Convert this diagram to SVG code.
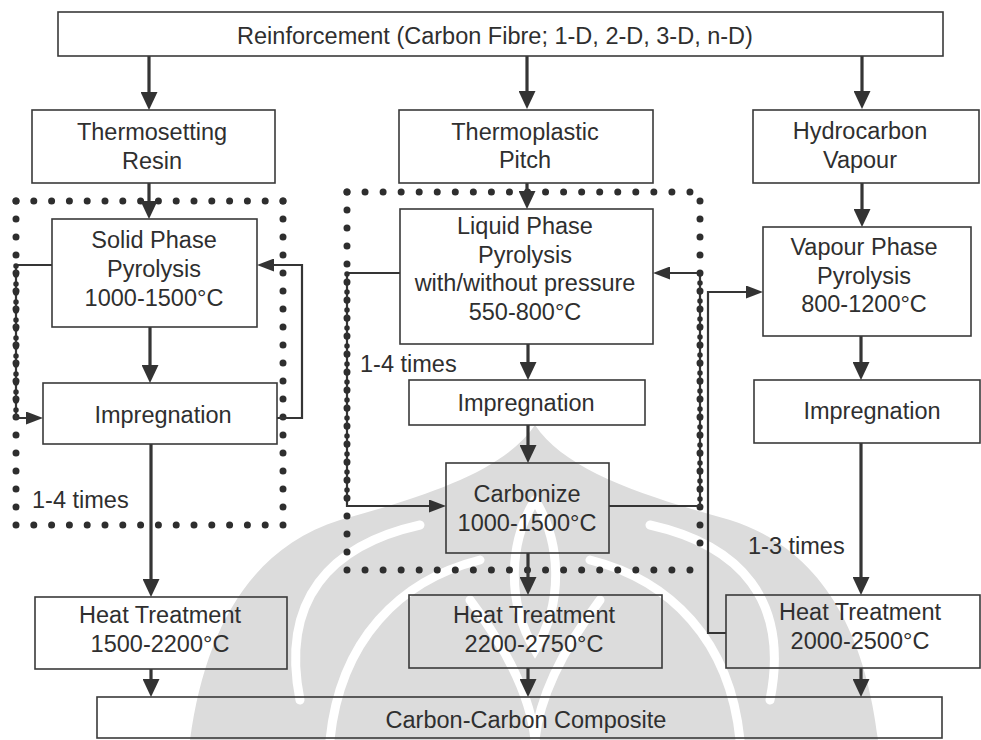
<svg xmlns="http://www.w3.org/2000/svg" width="981" height="740" viewBox="0 0 981 740">
  <defs>
    <style>
      .box { fill: none; stroke: #3a3a3a; stroke-width: 1.6; }
      .t { font-family: "Liberation Sans", Arial, Helvetica, sans-serif; font-size: 23.5px; fill: #2f2f2f; text-anchor: middle; }
      .ts { font-family: "Liberation Sans", Arial, Helvetica, sans-serif; font-size: 23.5px; fill: #2f2f2f; }
      .flow { fill: none; stroke: #353535; stroke-width: 3.2; }
      .loop { fill: none; stroke: #353535; stroke-width: 2.2; }
      .dot { fill: none; stroke: #2e2e2e; stroke-width: 7; stroke-linecap: round; }
      .dense { fill: none; stroke: #2e2e2e; stroke-width: 5.5; stroke-linecap: round; stroke-dasharray: 0 9; }
      .emb { fill: #dcdcdc; }
      .embl { fill: none; stroke: #ffffff; stroke-width: 9; stroke-linecap: round; }
    </style>
    <marker id="ah" markerUnits="userSpaceOnUse" viewBox="0 0 18 17" markerWidth="18" markerHeight="17" refX="12" refY="8.5" orient="auto">
      <path d="M0,0 L18,8.5 L0,17 Z" fill="#333"/>
    </marker>
    <marker id="ahs" markerUnits="userSpaceOnUse" viewBox="0 0 17 13" markerWidth="17" markerHeight="13" refX="13" refY="6.5" orient="auto">
      <path d="M0,0 L17,6.5 L0,13 Z" fill="#333"/>
    </marker>
  </defs>

  <rect width="981" height="740" fill="#ffffff"/>

  <!-- faint background emblem -->
  <g id="emblem">
    <path class="emb" d="M535,425 C565,470 640,495 730,520 C820,548 865,630 878,740 L190,740 C205,630 250,548 340,520 C430,495 505,470 535,425 Z"/>
    <path class="embl" d="M300,700 C280,600 330,545 420,525"/>
    <path class="embl" d="M770,700 C790,600 740,545 650,525"/>
    <path class="embl" d="M330,740 C340,640 400,580 480,560"/>
    <path class="embl" d="M740,740 C730,640 670,580 590,560"/>
    <path class="embl" d="M535,740 C530,690 500,640 470,600"/>
    <path class="embl" d="M535,740 C540,690 570,640 600,600"/>
    <path class="embl" d="M535,500 C510,540 505,600 535,650 C565,600 560,540 535,500"/>
  </g>

  <!-- dotted repeat-cycle frames -->
  <g id="cycle-frames">
    <path class="dot" d="M16,201 H283" stroke-dasharray="0 17.8"/>
    <path class="dot" d="M16,525 H283" stroke-dasharray="0 17.8"/>
    <path class="dot" d="M16,201 V525" stroke-dasharray="0 18"/>
    <path class="dot" d="M283,201 V525" stroke-dasharray="0 18"/>

    <path class="dot" d="M347,192 H690" stroke-dasharray="0 18.05"/>
    <path class="dot" d="M347,570 H690" stroke-dasharray="0 18.05"/>
    <path class="dot" d="M347,192 V570" stroke-dasharray="0 18"/>
    <path class="dot" d="M700,201 V561" stroke-dasharray="0 18"/>
  </g>

  <!-- connectors -->
  <g id="connectors">
    <!-- left column -->
    <path class="flow" d="M149,56 V104" marker-end="url(#ah)"/>
    <path class="flow" d="M149,183 V213" marker-end="url(#ah)"/>
    <path class="flow" d="M150,327 V377" marker-end="url(#ah)"/>
    <path class="flow" d="M151,444 V591" marker-end="url(#ah)"/>
    <path class="flow" d="M151,669 V691" marker-end="url(#ah)"/>
    <path class="loop" d="M52,265 H16 V418 H39" marker-end="url(#ahs)"/>
    <path class="loop" d="M277,418 H302 V265 H261" marker-end="url(#ahs)"/>
    <path class="dense" d="M16,266 V418"/>

    <!-- middle column -->
    <path class="flow" d="M527,56 V103" marker-end="url(#ah)"/>
    <path class="flow" d="M527,183 V203" marker-end="url(#ah)"/>
    <path class="flow" d="M528,344 V374" marker-end="url(#ah)"/>
    <path class="flow" d="M528,425 V457" marker-end="url(#ah)"/>
    <path class="flow" d="M528,553 V589" stroke-width="4.2" marker-end="url(#ah)"/>
    <path class="flow" d="M528,668 V691" marker-end="url(#ah)"/>
    <path class="loop" d="M400,273 H347 V506 H442" marker-end="url(#ahs)"/>
    <path class="loop" d="M609,506 H700 V273 H657" marker-end="url(#ahs)"/>
    <path class="dense" d="M347,274 V506"/>
    <path class="dense" d="M700,274 V506"/>

    <!-- right column -->
    <path class="flow" d="M862,56 V103" marker-end="url(#ah)"/>
    <path class="flow" d="M862,183 V221" marker-end="url(#ah)"/>
    <path class="flow" d="M861,336 V374" marker-end="url(#ah)"/>
    <path class="flow" d="M861,443 V589" marker-end="url(#ah)"/>
    <path class="flow" d="M861,668 V691" marker-end="url(#ah)"/>
    <path class="loop" d="M726,633 H708 V292 H759" marker-end="url(#ahs)"/>
  </g>

  <!-- nodes -->
  <g id="reinforcement">
    <rect class="box" x="58" y="12" width="885" height="44"/>
    <text class="t" x="495" y="44">Reinforcement (Carbon Fibre; 1-D, 2-D, 3-D, n-D)</text>
  </g>

  <g id="thermosetting-resin">
    <rect class="box" x="32" y="110" width="243" height="73"/>
    <text class="t" x="152" y="140">Thermosetting</text>
    <text class="t" x="152" y="169">Resin</text>
  </g>

  <g id="thermoplastic-pitch">
    <rect class="box" x="399" y="110" width="254" height="73"/>
    <text class="t" x="525" y="140">Thermoplastic</text>
    <text class="t" x="525" y="168">Pitch</text>
  </g>

  <g id="hydrocarbon-vapour">
    <rect class="box" x="753" y="110" width="226" height="73"/>
    <text class="t" x="860" y="139">Hydrocarbon</text>
    <text class="t" x="860" y="168">Vapour</text>
  </g>

  <g id="solid-phase-pyrolysis">
    <rect class="box" x="52" y="219" width="205" height="108"/>
    <text class="t" x="154" y="248">Solid Phase</text>
    <text class="t" x="154" y="277">Pyrolysis</text>
    <text class="t" x="154" y="306">1000-1500°C</text>
  </g>

  <g id="liquid-phase-pyrolysis">
    <rect class="box" x="400" y="209" width="253" height="135"/>
    <text class="t" x="525" y="234">Liquid Phase</text>
    <text class="t" x="525" y="263">Pyrolysis</text>
    <text class="t" x="525" y="291">with/without pressure</text>
    <text class="t" x="525" y="320">550-800°C</text>
  </g>

  <g id="vapour-phase-pyrolysis">
    <rect class="box" x="763" y="227" width="208" height="109"/>
    <text class="t" x="864" y="255">Vapour Phase</text>
    <text class="t" x="864" y="284">Pyrolysis</text>
    <text class="t" x="864" y="312">800-1200°C</text>
  </g>

  <g id="impregnation-solid">
    <rect class="box" x="43" y="383" width="234" height="61"/>
    <text class="t" x="163" y="423">Impregnation</text>
  </g>

  <g id="impregnation-liquid">
    <rect class="box" x="409" y="380" width="236" height="45"/>
    <text class="t" x="526" y="411">Impregnation</text>
  </g>

  <g id="impregnation-vapour">
    <rect class="box" x="754" y="380" width="226" height="63"/>
    <text class="t" x="872" y="419">Impregnation</text>
  </g>

  <g id="carbonize">
    <rect class="box" x="446" y="463" width="163" height="90"/>
    <text class="t" x="527" y="502">Carbonize</text>
    <text class="t" x="527" y="531">1000-1500°C</text>
  </g>

  <g id="heat-treatment-solid">
    <rect class="box" x="35" y="597" width="252" height="72"/>
    <text class="t" x="160" y="623">Heat Treatment</text>
    <text class="t" x="160" y="652">1500-2200°C</text>
  </g>

  <g id="heat-treatment-liquid">
    <rect class="box" x="409" y="595" width="253" height="73"/>
    <text class="t" x="534" y="623">Heat Treatment</text>
    <text class="t" x="534" y="652">2200-2750°C</text>
  </g>

  <g id="heat-treatment-vapour">
    <rect class="box" x="726" y="595" width="254" height="73"/>
    <text class="t" x="860" y="620">Heat Treatment</text>
    <text class="t" x="860" y="649">2000-2500°C</text>
  </g>

  <g id="carbon-carbon-composite">
    <rect class="box" x="97" y="697" width="845" height="41"/>
    <text class="t" x="526" y="728">Carbon-Carbon Composite</text>
  </g>

  <!-- repeat counts -->
  <g id="cycle-labels">
    <text class="ts" x="32" y="508">1-4 times</text>
    <text class="ts" x="360" y="372">1-4 times</text>
    <text class="ts" x="748" y="554">1-3 times</text>
  </g>
</svg>
